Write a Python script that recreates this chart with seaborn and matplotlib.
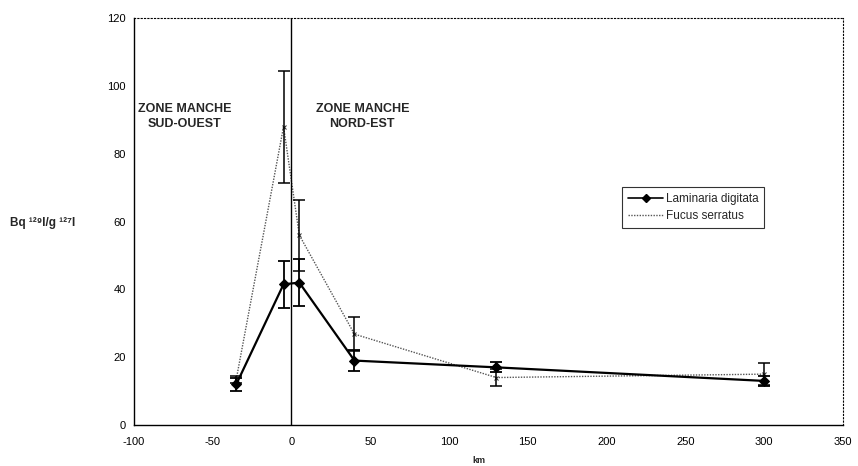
import matplotlib
matplotlib.use("Agg")
import matplotlib.pyplot as plt
import pandas as pd
import seaborn as sns

# distance (km) and Bq 129I / g 127I
km = [-35, -5, 5, 40, 130, 300]
laminaria = [12, 41.5, 42, 19, 17, 13]
laminaria_err = [2, 7, 7, 3, 1.5, 1.5]
fucus = [13.5, 88, 56, 26.8, 14, 15]
fucus_err = [1, 16.5, 10.5, 5, 2.5, 3.2]

LAM_LABEL = "Laminaria digitata"
FUC_LABEL = "Fucus serratus"

sns.set_style("white")
plt.rcParams["font.family"] = ["Liberation Sans", "DejaVu Sans"]
plt.rcParams["axes.unicode_minus"] = False

lam_df = pd.DataFrame({"km": km, "value": laminaria})
fuc_df = pd.DataFrame({"km": km, "value": fucus})

fig = plt.figure(figsize=(8.58, 4.66), dpi=100)
ax = fig.add_axes([0.156, 0.088, 0.8265, 0.873])

sns.lineplot(data=fuc_df, x="km", y="value", color="#555555", lw=1.0,
             linestyle=(0, (1, 1)), marker="x", markersize=3,
             markeredgecolor="#333333", ax=ax)
sns.lineplot(data=lam_df, x="km", y="value", color="black", lw=1.6,
             marker="D", markersize=5, markeredgecolor="black", ax=ax)

ax.errorbar(km, laminaria, yerr=laminaria_err, fmt="none", ecolor="black",
            elinewidth=1.3, capsize=4, capthick=1.3)
ax.errorbar(km, fucus, yerr=fucus_err, fmt="none", ecolor="black",
            elinewidth=1.1, capsize=4, capthick=1.1)

ax.axvline(0, color="black", lw=1)

ax.set_xlim(-100, 350)
ax.set_ylim(0, 120)
ax.set_xticks(range(-100, 351, 50))
ax.set_yticks(range(0, 121, 20))
ax.tick_params(direction="inout", length=5, width=0.8, labelsize=8, colors="black")
ax.tick_params(axis="x", pad=6)

for side in ["left", "bottom"]:
    ax.spines[side].set_color("black")
    ax.spines[side].set_linewidth(1.0)
for side in ["top", "right"]:
    ax.spines[side].set_color("black")
    ax.spines[side].set_linestyle((0, (1, 2)))
    ax.spines[side].set_linewidth(0.8)

ax.set_xlabel("km", fontsize=6.5, fontweight="bold")
ax.xaxis.set_label_coords(0.486, -0.075)
ax.set_ylabel("")
fig.text(0.012, 0.522, "Bq \u00b9\u00b2\u2079I/g \u00b9\u00b2\u2077I", fontsize=8.5,
         fontweight="bold", va="center", ha="left")

ax.text(-68, 91, "ZONE MANCHE\nSUD-OUEST", fontsize=9, fontweight="bold",
        ha="center", va="center", linespacing=1.25)
ax.text(45, 91, "ZONE MANCHE\nNORD-EST", fontsize=9, fontweight="bold",
        ha="center", va="center", linespacing=1.25)

handles = [
    plt.Line2D([], [], color="black", lw=1.2, marker="D", markersize=4),
    plt.Line2D([], [], color="#555555", lw=1.0, linestyle=(0, (1, 1))),
]
leg = ax.legend(handles, [LAM_LABEL, FUC_LABEL], loc="upper left",
                bbox_to_anchor=(0.68, 0.6), fontsize=8.5, frameon=True,
                fancybox=False, handlelength=3.0, handletextpad=0.2,
                borderpad=0.5, labelspacing=0.45)
leg.get_frame().set_edgecolor("black")
leg.get_frame().set_linewidth(0.8)

fig.savefig("out.png", dpi=100)
